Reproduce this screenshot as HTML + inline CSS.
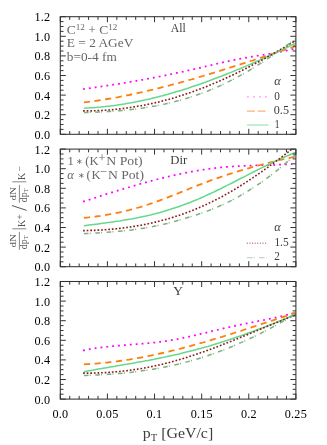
<!DOCTYPE html>
<html><head><meta charset="utf-8"><title>chart</title>
<style>
html,body{margin:0;padding:0;background:#fff;}
body{width:327px;height:445px;position:relative;overflow:hidden;font-family:"Liberation Serif",serif;}
svg text{font-family:"Liberation Serif",serif;}
svg{will-change:transform;}
.t{font-size:12.2px;fill:#000;letter-spacing:0.2px}
.a{font-size:12.6px;}
.x{font-size:15px;}
</style></head><body>
<svg width="327" height="445" viewBox="0 0 327 445" style="position:absolute;left:0;top:0">
<rect width="327" height="445" fill="#fff"/>
<defs><clipPath id="c0"><rect x="60.3" y="16.7" width="235.59999999999997" height="117.6"/></clipPath></defs>
<g clip-path="url(#c0)" fill="none">
<path d="M83.9,89.0 L86.3,88.6 L88.7,88.3 L91.0,88.0 L93.4,87.6 L95.8,87.3 L98.2,87.0 L100.6,86.6 L103.0,86.3 L105.3,85.9 L107.7,85.5 L110.1,85.2 L112.5,84.8 L114.9,84.4 L117.2,84.1 L119.6,83.7 L122.0,83.3 L124.4,82.9 L126.8,82.5 L129.2,82.1 L131.5,81.7 L133.9,81.3 L136.3,80.9 L138.7,80.4 L141.1,80.0 L143.5,79.6 L145.8,79.1 L148.2,78.7 L150.6,78.3 L153.0,77.8 L155.4,77.4 L157.7,76.9 L160.1,76.4 L162.5,76.0 L164.9,75.5 L167.3,75.0 L169.7,74.5 L172.0,74.0 L174.4,73.5 L176.8,73.0 L179.2,72.5 L181.6,72.0 L183.9,71.5 L186.3,70.9 L188.7,70.4 L191.1,69.9 L193.5,69.3 L195.9,68.8 L198.2,68.2 L200.6,67.7 L203.0,67.1 L205.4,66.5 L207.8,66.0 L210.1,65.4 L212.5,64.8 L214.9,64.3 L217.3,63.7 L219.7,63.1 L222.1,62.6 L224.4,62.1 L226.8,61.5 L229.2,61.0 L231.6,60.5 L234.0,60.0 L236.3,59.5 L238.7,59.0 L241.1,58.6 L243.5,58.1 L245.9,57.7 L248.3,57.3 L250.6,56.9 L253.0,56.5 L255.4,56.1 L257.8,55.7 L260.2,55.3 L262.6,55.0 L264.9,54.6 L267.3,54.2 L269.7,53.8 L272.1,53.4 L274.5,53.0 L276.8,52.5 L279.2,52.1 L281.6,51.6 L284.0,51.1 L286.4,50.6 L288.8,50.1 L291.1,49.5 L293.5,49.0 L295.9,48.3" stroke="#ff00ff" stroke-width="1.75" stroke-linecap="square" stroke-dasharray="0.1 5.8"/>
<path d="M83.9,102.4 L86.3,102.1 L88.7,101.8 L91.0,101.5 L93.4,101.2 L95.8,100.8 L98.2,100.5 L100.6,100.1 L103.0,99.7 L105.3,99.4 L107.7,99.0 L110.1,98.6 L112.5,98.2 L114.9,97.7 L117.2,97.3 L119.6,96.8 L122.0,96.4 L124.4,95.9 L126.8,95.4 L129.2,95.0 L131.5,94.5 L133.9,94.0 L136.3,93.4 L138.7,92.9 L141.1,92.4 L143.5,91.8 L145.8,91.3 L148.2,90.7 L150.6,90.2 L153.0,89.6 L155.4,89.0 L157.7,88.4 L160.1,87.8 L162.5,87.2 L164.9,86.6 L167.3,86.0 L169.7,85.4 L172.0,84.7 L174.4,84.1 L176.8,83.5 L179.2,82.8 L181.6,82.1 L183.9,81.5 L186.3,80.8 L188.7,80.1 L191.1,79.5 L193.5,78.8 L195.9,78.1 L198.2,77.4 L200.6,76.7 L203.0,76.0 L205.4,75.2 L207.8,74.5 L210.1,73.8 L212.5,73.1 L214.9,72.4 L217.3,71.6 L219.7,70.9 L222.1,70.1 L224.4,69.4 L226.8,68.7 L229.2,67.9 L231.6,67.2 L234.0,66.4 L236.3,65.6 L238.7,64.9 L241.1,64.1 L243.5,63.3 L245.9,62.6 L248.3,61.8 L250.6,61.0 L253.0,60.3 L255.4,59.5 L257.8,58.7 L260.2,57.9 L262.6,57.2 L264.9,56.4 L267.3,55.6 L269.7,54.8 L272.1,54.0 L274.5,53.2 L276.8,52.5 L279.2,51.7 L281.6,50.9 L284.0,50.1 L286.4,49.3 L288.8,48.6 L291.1,47.8 L293.5,47.0 L295.9,46.2" stroke="#ff7f0e" stroke-width="1.8" stroke-linecap="butt" stroke-dasharray="6.2 4.5"/>
<path d="M83.9,108.2 L86.3,108.1 L88.7,108.0 L91.0,107.8 L93.4,107.7 L95.8,107.5 L98.2,107.3 L100.6,107.1 L103.0,106.8 L105.3,106.6 L107.7,106.3 L110.1,106.0 L112.5,105.7 L114.9,105.4 L117.2,105.1 L119.6,104.7 L122.0,104.3 L124.4,104.0 L126.8,103.5 L129.2,103.1 L131.5,102.7 L133.9,102.2 L136.3,101.8 L138.7,101.3 L141.1,100.8 L143.5,100.3 L145.8,99.8 L148.2,99.2 L150.6,98.7 L153.0,98.1 L155.4,97.5 L157.7,96.9 L160.1,96.3 L162.5,95.7 L164.9,95.0 L167.3,94.4 L169.7,93.7 L172.0,93.0 L174.4,92.3 L176.8,91.6 L179.2,90.9 L181.6,90.2 L183.9,89.4 L186.3,88.7 L188.7,87.9 L191.1,87.1 L193.5,86.3 L195.9,85.5 L198.2,84.7 L200.6,83.9 L203.0,83.0 L205.4,82.2 L207.8,81.3 L210.1,80.4 L212.5,79.5 L214.9,78.6 L217.3,77.7 L219.7,76.8 L222.1,75.9 L224.4,75.0 L226.8,74.0 L229.2,73.1 L231.6,72.1 L234.0,71.1 L236.3,70.1 L238.7,69.2 L241.1,68.2 L243.5,67.1 L245.9,66.1 L248.3,65.1 L250.6,64.1 L253.0,63.0 L255.4,62.0 L257.8,60.9 L260.2,59.9 L262.6,58.8 L264.9,57.7 L267.3,56.6 L269.7,55.5 L272.1,54.4 L274.5,53.3 L276.8,52.2 L279.2,51.1 L281.6,50.0 L284.0,48.8 L286.4,47.7 L288.8,46.5 L291.1,45.4 L293.5,44.2 L295.9,43.1" stroke="#66d98f" stroke-width="1.55" stroke-linecap="butt"/>
<path d="M83.9,110.9 L86.3,110.9 L88.7,110.9 L91.0,110.9 L93.4,110.8 L95.8,110.7 L98.2,110.6 L100.6,110.5 L103.0,110.4 L105.3,110.2 L107.7,110.1 L110.1,109.9 L112.5,109.7 L114.9,109.4 L117.2,109.2 L119.6,108.9 L122.0,108.6 L124.4,108.3 L126.8,108.0 L129.2,107.7 L131.5,107.3 L133.9,106.9 L136.3,106.5 L138.7,106.1 L141.1,105.7 L143.5,105.3 L145.8,104.8 L148.2,104.3 L150.6,103.8 L153.0,103.3 L155.4,102.7 L157.7,102.2 L160.1,101.6 L162.5,101.0 L164.9,100.3 L167.3,99.7 L169.7,99.1 L172.0,98.4 L174.4,97.7 L176.8,97.0 L179.2,96.2 L181.6,95.5 L183.9,94.7 L186.3,93.9 L188.7,93.1 L191.1,92.3 L193.5,91.5 L195.9,90.6 L198.2,89.7 L200.6,88.8 L203.0,87.9 L205.4,86.9 L207.8,86.0 L210.1,85.0 L212.5,84.0 L214.9,83.0 L217.3,82.0 L219.7,81.0 L222.1,79.9 L224.4,78.8 L226.8,77.7 L229.2,76.6 L231.6,75.5 L234.0,74.4 L236.3,73.2 L238.7,72.1 L241.1,70.9 L243.5,69.7 L245.9,68.5 L248.3,67.3 L250.6,66.0 L253.0,64.8 L255.4,63.5 L257.8,62.3 L260.2,61.0 L262.6,59.7 L264.9,58.4 L267.3,57.0 L269.7,55.7 L272.1,54.4 L274.5,53.0 L276.8,51.6 L279.2,50.3 L281.6,48.9 L284.0,47.5 L286.4,46.1 L288.8,44.7 L291.1,43.2 L293.5,41.8 L295.9,40.4" stroke="#8b1a1a" stroke-width="1.6" stroke-linecap="square" stroke-dasharray="0.1 3.5"/>
<path d="M83.9,112.5 L86.3,112.5 L88.7,112.4 L91.0,112.3 L93.4,112.2 L95.8,112.2 L98.2,112.1 L100.6,112.0 L103.0,111.8 L105.3,111.7 L107.7,111.6 L110.1,111.4 L112.5,111.2 L114.9,111.1 L117.2,110.9 L119.6,110.7 L122.0,110.5 L124.4,110.2 L126.8,110.0 L129.2,109.7 L131.5,109.5 L133.9,109.2 L136.3,108.9 L138.7,108.6 L141.1,108.2 L143.5,107.9 L145.8,107.5 L148.2,107.1 L150.6,106.7 L153.0,106.3 L155.4,105.9 L157.7,105.4 L160.1,105.0 L162.5,104.5 L164.9,104.0 L167.3,103.4 L169.7,102.9 L172.0,102.3 L174.4,101.7 L176.8,101.1 L179.2,100.5 L181.6,99.8 L183.9,99.1 L186.3,98.4 L188.7,97.7 L191.1,96.9 L193.5,96.2 L195.9,95.4 L198.2,94.5 L200.6,93.7 L203.0,92.8 L205.4,91.9 L207.8,91.0 L210.1,90.0 L212.5,89.1 L214.9,88.1 L217.3,87.0 L219.7,86.0 L222.1,84.9 L224.4,83.8 L226.8,82.6 L229.2,81.4 L231.6,80.2 L234.0,79.0 L236.3,77.7 L238.7,76.4 L241.1,75.1 L243.5,73.8 L245.9,72.4 L248.3,71.0 L250.6,69.6 L253.0,68.2 L255.4,66.7 L257.8,65.2 L260.2,63.7 L262.6,62.2 L264.9,60.6 L267.3,59.0 L269.7,57.4 L272.1,55.8 L274.5,54.1 L276.8,52.5 L279.2,50.8 L281.6,49.1 L284.0,47.4 L286.4,45.6 L288.8,43.9 L291.1,42.1 L293.5,40.3 L295.9,38.5" stroke="#7cb07d" stroke-width="1.5" stroke-linecap="butt" stroke-dasharray="4.6 1.2 1 4.6"/>
</g>
<rect x="60.3" y="16.7" width="235.59999999999997" height="117.6" fill="none" stroke="#333" stroke-width="1.05"/>
<path d="M60.30,134.29999999999998v-5.5M60.30,16.7v5.5M69.72,134.29999999999998v-3.2M69.72,16.7v3.2M79.15,134.29999999999998v-3.2M79.15,16.7v3.2M88.57,134.29999999999998v-3.2M88.57,16.7v3.2M98.00,134.29999999999998v-3.2M98.00,16.7v3.2M107.42,134.29999999999998v-5.5M107.42,16.7v5.5M116.84,134.29999999999998v-3.2M116.84,16.7v3.2M126.27,134.29999999999998v-3.2M126.27,16.7v3.2M135.69,134.29999999999998v-3.2M135.69,16.7v3.2M145.12,134.29999999999998v-3.2M145.12,16.7v3.2M154.54,134.29999999999998v-5.5M154.54,16.7v5.5M163.96,134.29999999999998v-3.2M163.96,16.7v3.2M173.39,134.29999999999998v-3.2M173.39,16.7v3.2M182.81,134.29999999999998v-3.2M182.81,16.7v3.2M192.24,134.29999999999998v-3.2M192.24,16.7v3.2M201.66,134.29999999999998v-5.5M201.66,16.7v5.5M211.08,134.29999999999998v-3.2M211.08,16.7v3.2M220.51,134.29999999999998v-3.2M220.51,16.7v3.2M229.93,134.29999999999998v-3.2M229.93,16.7v3.2M239.36,134.29999999999998v-3.2M239.36,16.7v3.2M248.78,134.29999999999998v-5.5M248.78,16.7v5.5M258.20,134.29999999999998v-3.2M258.20,16.7v3.2M267.63,134.29999999999998v-3.2M267.63,16.7v3.2M277.05,134.29999999999998v-3.2M277.05,16.7v3.2M286.48,134.29999999999998v-3.2M286.48,16.7v3.2M295.90,134.29999999999998v-5.5M295.90,16.7v5.5M60.3,134.30h5.5M295.9,134.30h-5.5M60.3,129.40h3.2M295.9,129.40h-3.2M60.3,124.50h3.2M295.9,124.50h-3.2M60.3,119.60h3.2M295.9,119.60h-3.2M60.3,114.70h5.5M295.9,114.70h-5.5M60.3,109.80h3.2M295.9,109.80h-3.2M60.3,104.90h3.2M295.9,104.90h-3.2M60.3,100.00h3.2M295.9,100.00h-3.2M60.3,95.10h5.5M295.9,95.10h-5.5M60.3,90.20h3.2M295.9,90.20h-3.2M60.3,85.30h3.2M295.9,85.30h-3.2M60.3,80.40h3.2M295.9,80.40h-3.2M60.3,75.50h5.5M295.9,75.50h-5.5M60.3,70.60h3.2M295.9,70.60h-3.2M60.3,65.70h3.2M295.9,65.70h-3.2M60.3,60.80h3.2M295.9,60.80h-3.2M60.3,55.90h5.5M295.9,55.90h-5.5M60.3,51.00h3.2M295.9,51.00h-3.2M60.3,46.10h3.2M295.9,46.10h-3.2M60.3,41.20h3.2M295.9,41.20h-3.2M60.3,36.30h5.5M295.9,36.30h-5.5M60.3,31.40h3.2M295.9,31.40h-3.2M60.3,26.50h3.2M295.9,26.50h-3.2M60.3,21.60h3.2M295.9,21.60h-3.2M60.3,16.70h5.5M295.9,16.70h-5.5" stroke="#333" stroke-width="1" fill="none"/>
<text x="50.3" y="138.7" text-anchor="end" class="t">0.0</text>
<text x="50.3" y="119.1" text-anchor="end" class="t">0.2</text>
<text x="50.3" y="99.5" text-anchor="end" class="t">0.4</text>
<text x="50.3" y="79.9" text-anchor="end" class="t">0.6</text>
<text x="50.3" y="60.3" text-anchor="end" class="t">0.8</text>
<text x="50.3" y="40.7" text-anchor="end" class="t">1.0</text>
<text x="50.3" y="21.1" text-anchor="end" class="t">1.2</text>
<defs><clipPath id="c1"><rect x="60.3" y="149.1" width="235.59999999999997" height="117.6"/></clipPath></defs>
<g clip-path="url(#c1)" fill="none">
<path d="M83.9,201.4 L86.3,200.6 L88.7,199.9 L91.0,199.1 L93.4,198.3 L95.8,197.6 L98.2,196.8 L100.6,196.0 L103.0,195.3 L105.3,194.5 L107.7,193.8 L110.1,193.0 L112.5,192.3 L114.9,191.5 L117.2,190.8 L119.6,190.1 L122.0,189.3 L124.4,188.6 L126.8,187.9 L129.2,187.2 L131.5,186.5 L133.9,185.8 L136.3,185.1 L138.7,184.4 L141.1,183.7 L143.5,183.0 L145.8,182.4 L148.2,181.7 L150.6,181.1 L153.0,180.4 L155.4,179.8 L157.7,179.2 L160.1,178.6 L162.5,178.0 L164.9,177.4 L167.3,176.8 L169.7,176.3 L172.0,175.7 L174.4,175.2 L176.8,174.7 L179.2,174.1 L181.6,173.6 L183.9,173.1 L186.3,172.7 L188.7,172.2 L191.1,171.8 L193.5,171.3 L195.9,170.9 L198.2,170.5 L200.6,170.1 L203.0,169.7 L205.4,169.4 L207.8,169.0 L210.1,168.7 L212.5,168.4 L214.9,168.1 L217.3,167.8 L219.7,167.6 L222.1,167.4 L224.4,167.1 L226.8,166.9 L229.2,166.7 L231.6,166.6 L234.0,166.4 L236.3,166.3 L238.7,166.1 L241.1,166.0 L243.5,165.9 L245.9,165.8 L248.3,165.7 L250.6,165.6 L253.0,165.5 L255.4,165.4 L257.8,165.3 L260.2,165.3 L262.6,165.2 L264.9,165.1 L267.3,165.0 L269.7,165.0 L272.1,164.9 L274.5,164.8 L276.8,164.7 L279.2,164.6 L281.6,164.5 L284.0,164.4 L286.4,164.3 L288.8,164.2 L291.1,164.0 L293.5,163.9 L295.9,163.7" stroke="#ff00ff" stroke-width="1.75" stroke-linecap="square" stroke-dasharray="0.1 5.8"/>
<path d="M83.9,217.9 L86.3,217.6 L88.7,217.4 L91.0,217.1 L93.4,216.8 L95.8,216.5 L98.2,216.1 L100.6,215.8 L103.0,215.4 L105.3,215.0 L107.7,214.6 L110.1,214.2 L112.5,213.7 L114.9,213.3 L117.2,212.8 L119.6,212.3 L122.0,211.8 L124.4,211.2 L126.8,210.6 L129.2,210.1 L131.5,209.4 L133.9,208.8 L136.3,208.2 L138.7,207.5 L141.1,206.8 L143.5,206.1 L145.8,205.3 L148.2,204.5 L150.6,203.7 L153.0,202.9 L155.4,202.1 L157.7,201.2 L160.1,200.3 L162.5,199.4 L164.9,198.5 L167.3,197.6 L169.7,196.7 L172.0,195.7 L174.4,194.8 L176.8,193.8 L179.2,192.9 L181.6,191.9 L183.9,190.9 L186.3,190.0 L188.7,189.0 L191.1,188.0 L193.5,187.1 L195.9,186.1 L198.2,185.2 L200.6,184.3 L203.0,183.4 L205.4,182.5 L207.8,181.6 L210.1,180.7 L212.5,179.9 L214.9,179.0 L217.3,178.2 L219.7,177.3 L222.1,176.5 L224.4,175.7 L226.8,174.9 L229.2,174.1 L231.6,173.4 L234.0,172.6 L236.3,171.9 L238.7,171.1 L241.1,170.4 L243.5,169.7 L245.9,169.0 L248.3,168.3 L250.6,167.6 L253.0,166.9 L255.4,166.3 L257.8,165.6 L260.2,165.0 L262.6,164.4 L264.9,163.7 L267.3,163.1 L269.7,162.5 L272.1,161.9 L274.5,161.4 L276.8,160.8 L279.2,160.2 L281.6,159.7 L284.0,159.2 L286.4,158.6 L288.8,158.1 L291.1,157.6 L293.5,157.1 L295.9,156.6" stroke="#ff7f0e" stroke-width="1.8" stroke-linecap="butt" stroke-dasharray="6.2 4.5"/>
<path d="M83.9,225.8 L86.3,225.4 L88.7,225.1 L91.0,224.8 L93.4,224.5 L95.8,224.2 L98.2,223.9 L100.6,223.6 L103.0,223.2 L105.3,222.9 L107.7,222.6 L110.1,222.3 L112.5,221.9 L114.9,221.6 L117.2,221.2 L119.6,220.9 L122.0,220.5 L124.4,220.1 L126.8,219.7 L129.2,219.3 L131.5,218.9 L133.9,218.4 L136.3,218.0 L138.7,217.5 L141.1,217.0 L143.5,216.5 L145.8,216.0 L148.2,215.4 L150.6,214.9 L153.0,214.3 L155.4,213.7 L157.7,213.0 L160.1,212.4 L162.5,211.7 L164.9,211.0 L167.3,210.3 L169.7,209.6 L172.0,208.8 L174.4,208.0 L176.8,207.2 L179.2,206.4 L181.6,205.6 L183.9,204.7 L186.3,203.8 L188.7,202.9 L191.1,202.0 L193.5,201.0 L195.9,200.1 L198.2,199.1 L200.6,198.0 L203.0,197.0 L205.4,195.9 L207.8,194.8 L210.1,193.7 L212.5,192.6 L214.9,191.5 L217.3,190.3 L219.7,189.2 L222.1,188.0 L224.4,186.8 L226.8,185.6 L229.2,184.4 L231.6,183.2 L234.0,182.0 L236.3,180.8 L238.7,179.5 L241.1,178.3 L243.5,177.1 L245.9,175.9 L248.3,174.6 L250.6,173.4 L253.0,172.2 L255.4,171.0 L257.8,169.8 L260.2,168.6 L262.6,167.4 L264.9,166.2 L267.3,165.0 L269.7,163.9 L272.1,162.7 L274.5,161.6 L276.8,160.5 L279.2,159.4 L281.6,158.3 L284.0,157.2 L286.4,156.2 L288.8,155.2 L291.1,154.2 L293.5,153.2 L295.9,152.2" stroke="#66d98f" stroke-width="1.55" stroke-linecap="butt"/>
<path d="M83.9,230.6 L86.3,230.6 L88.7,230.5 L91.0,230.4 L93.4,230.4 L95.8,230.3 L98.2,230.1 L100.6,230.0 L103.0,229.9 L105.3,229.7 L107.7,229.5 L110.1,229.3 L112.5,229.1 L114.9,228.9 L117.2,228.7 L119.6,228.4 L122.0,228.1 L124.4,227.8 L126.8,227.5 L129.2,227.2 L131.5,226.8 L133.9,226.4 L136.3,226.0 L138.7,225.6 L141.1,225.2 L143.5,224.7 L145.8,224.2 L148.2,223.7 L150.6,223.2 L153.0,222.7 L155.4,222.1 L157.7,221.5 L160.1,220.9 L162.5,220.3 L164.9,219.7 L167.3,219.0 L169.7,218.3 L172.0,217.6 L174.4,216.8 L176.8,216.0 L179.2,215.3 L181.6,214.4 L183.9,213.6 L186.3,212.7 L188.7,211.8 L191.1,210.9 L193.5,210.0 L195.9,209.0 L198.2,208.0 L200.6,207.0 L203.0,205.9 L205.4,204.9 L207.8,203.8 L210.1,202.6 L212.5,201.5 L214.9,200.3 L217.3,199.1 L219.7,197.8 L222.1,196.6 L224.4,195.3 L226.8,193.9 L229.2,192.6 L231.6,191.2 L234.0,189.8 L236.3,188.4 L238.7,186.9 L241.1,185.4 L243.5,183.9 L245.9,182.4 L248.3,180.8 L250.6,179.2 L253.0,177.7 L255.4,176.0 L257.8,174.4 L260.2,172.7 L262.6,171.1 L264.9,169.4 L267.3,167.7 L269.7,165.9 L272.1,164.2 L274.5,162.4 L276.8,160.7 L279.2,158.9 L281.6,157.1 L284.0,155.2 L286.4,153.4 L288.8,151.6 L291.1,149.7 L293.5,147.8 L295.9,145.9" stroke="#8b1a1a" stroke-width="1.6" stroke-linecap="square" stroke-dasharray="0.1 3.5"/>
<path d="M83.9,233.8 L86.3,233.6 L88.7,233.5 L91.0,233.3 L93.4,233.2 L95.8,233.0 L98.2,232.9 L100.6,232.7 L103.0,232.5 L105.3,232.4 L107.7,232.2 L110.1,232.0 L112.5,231.8 L114.9,231.6 L117.2,231.4 L119.6,231.2 L122.0,230.9 L124.4,230.7 L126.8,230.4 L129.2,230.2 L131.5,229.9 L133.9,229.6 L136.3,229.3 L138.7,229.0 L141.1,228.6 L143.5,228.2 L145.8,227.9 L148.2,227.4 L150.6,227.0 L153.0,226.6 L155.4,226.1 L157.7,225.6 L160.1,225.1 L162.5,224.5 L164.9,223.9 L167.3,223.4 L169.7,222.7 L172.0,222.1 L174.4,221.5 L176.8,220.8 L179.2,220.1 L181.6,219.4 L183.9,218.7 L186.3,218.0 L188.7,217.3 L191.1,216.6 L193.5,215.8 L195.9,215.0 L198.2,214.3 L200.6,213.4 L203.0,212.6 L205.4,211.8 L207.8,210.9 L210.1,210.0 L212.5,209.0 L214.9,208.1 L217.3,207.1 L219.7,206.0 L222.1,205.0 L224.4,203.9 L226.8,202.8 L229.2,201.6 L231.6,200.4 L234.0,199.1 L236.3,197.9 L238.7,196.6 L241.1,195.2 L243.5,193.8 L245.9,192.4 L248.3,190.9 L250.6,189.4 L253.0,187.9 L255.4,186.3 L257.8,184.7 L260.2,183.1 L262.6,181.4 L264.9,179.7 L267.3,177.9 L269.7,176.2 L272.1,174.3 L274.5,172.5 L276.8,170.6 L279.2,168.6 L281.6,166.7 L284.0,164.6 L286.4,162.6 L288.8,160.5 L291.1,158.4 L293.5,156.2 L295.9,154.1" stroke="#7cb07d" stroke-width="1.5" stroke-linecap="butt" stroke-dasharray="4.6 1.2 1 4.6"/>
</g>
<rect x="60.3" y="149.1" width="235.59999999999997" height="117.6" fill="none" stroke="#333" stroke-width="1.05"/>
<path d="M60.30,266.7v-5.5M60.30,149.1v5.5M69.72,266.7v-3.2M69.72,149.1v3.2M79.15,266.7v-3.2M79.15,149.1v3.2M88.57,266.7v-3.2M88.57,149.1v3.2M98.00,266.7v-3.2M98.00,149.1v3.2M107.42,266.7v-5.5M107.42,149.1v5.5M116.84,266.7v-3.2M116.84,149.1v3.2M126.27,266.7v-3.2M126.27,149.1v3.2M135.69,266.7v-3.2M135.69,149.1v3.2M145.12,266.7v-3.2M145.12,149.1v3.2M154.54,266.7v-5.5M154.54,149.1v5.5M163.96,266.7v-3.2M163.96,149.1v3.2M173.39,266.7v-3.2M173.39,149.1v3.2M182.81,266.7v-3.2M182.81,149.1v3.2M192.24,266.7v-3.2M192.24,149.1v3.2M201.66,266.7v-5.5M201.66,149.1v5.5M211.08,266.7v-3.2M211.08,149.1v3.2M220.51,266.7v-3.2M220.51,149.1v3.2M229.93,266.7v-3.2M229.93,149.1v3.2M239.36,266.7v-3.2M239.36,149.1v3.2M248.78,266.7v-5.5M248.78,149.1v5.5M258.20,266.7v-3.2M258.20,149.1v3.2M267.63,266.7v-3.2M267.63,149.1v3.2M277.05,266.7v-3.2M277.05,149.1v3.2M286.48,266.7v-3.2M286.48,149.1v3.2M295.90,266.7v-5.5M295.90,149.1v5.5M60.3,266.70h5.5M295.9,266.70h-5.5M60.3,261.80h3.2M295.9,261.80h-3.2M60.3,256.90h3.2M295.9,256.90h-3.2M60.3,252.00h3.2M295.9,252.00h-3.2M60.3,247.10h5.5M295.9,247.10h-5.5M60.3,242.20h3.2M295.9,242.20h-3.2M60.3,237.30h3.2M295.9,237.30h-3.2M60.3,232.40h3.2M295.9,232.40h-3.2M60.3,227.50h5.5M295.9,227.50h-5.5M60.3,222.60h3.2M295.9,222.60h-3.2M60.3,217.70h3.2M295.9,217.70h-3.2M60.3,212.80h3.2M295.9,212.80h-3.2M60.3,207.90h5.5M295.9,207.90h-5.5M60.3,203.00h3.2M295.9,203.00h-3.2M60.3,198.10h3.2M295.9,198.10h-3.2M60.3,193.20h3.2M295.9,193.20h-3.2M60.3,188.30h5.5M295.9,188.30h-5.5M60.3,183.40h3.2M295.9,183.40h-3.2M60.3,178.50h3.2M295.9,178.50h-3.2M60.3,173.60h3.2M295.9,173.60h-3.2M60.3,168.70h5.5M295.9,168.70h-5.5M60.3,163.80h3.2M295.9,163.80h-3.2M60.3,158.90h3.2M295.9,158.90h-3.2M60.3,154.00h3.2M295.9,154.00h-3.2M60.3,149.10h5.5M295.9,149.10h-5.5" stroke="#333" stroke-width="1" fill="none"/>
<text x="50.3" y="271.1" text-anchor="end" class="t">0.0</text>
<text x="50.3" y="251.5" text-anchor="end" class="t">0.2</text>
<text x="50.3" y="231.9" text-anchor="end" class="t">0.4</text>
<text x="50.3" y="212.3" text-anchor="end" class="t">0.6</text>
<text x="50.3" y="192.7" text-anchor="end" class="t">0.8</text>
<text x="50.3" y="173.1" text-anchor="end" class="t">1.0</text>
<text x="50.3" y="153.5" text-anchor="end" class="t">1.2</text>
<defs><clipPath id="c2"><rect x="60.3" y="281.5" width="235.59999999999997" height="117.6"/></clipPath></defs>
<g clip-path="url(#c2)" fill="none">
<path d="M83.9,350.4 L86.3,349.9 L88.7,349.4 L91.0,349.0 L93.4,348.6 L95.8,348.2 L98.2,347.9 L100.6,347.6 L103.0,347.2 L105.3,347.0 L107.7,346.7 L110.1,346.4 L112.5,346.2 L114.9,346.0 L117.2,345.8 L119.6,345.6 L122.0,345.4 L124.4,345.2 L126.8,345.0 L129.2,344.8 L131.5,344.6 L133.9,344.4 L136.3,344.2 L138.7,344.0 L141.1,343.8 L143.5,343.6 L145.8,343.4 L148.2,343.2 L150.6,342.9 L153.0,342.7 L155.4,342.4 L157.7,342.1 L160.1,341.8 L162.5,341.5 L164.9,341.2 L167.3,340.8 L169.7,340.4 L172.0,340.0 L174.4,339.6 L176.8,339.2 L179.2,338.7 L181.6,338.2 L183.9,337.7 L186.3,337.2 L188.7,336.7 L191.1,336.2 L193.5,335.6 L195.9,335.1 L198.2,334.5 L200.6,333.9 L203.0,333.3 L205.4,332.8 L207.8,332.2 L210.1,331.6 L212.5,331.0 L214.9,330.5 L217.3,329.9 L219.7,329.3 L222.1,328.7 L224.4,328.2 L226.8,327.6 L229.2,327.1 L231.6,326.6 L234.0,326.1 L236.3,325.6 L238.7,325.1 L241.1,324.6 L243.5,324.1 L245.9,323.6 L248.3,323.1 L250.6,322.7 L253.0,322.2 L255.4,321.7 L257.8,321.2 L260.2,320.8 L262.6,320.3 L264.9,319.8 L267.3,319.3 L269.7,318.8 L272.1,318.3 L274.5,317.8 L276.8,317.3 L279.2,316.7 L281.6,316.2 L284.0,315.6 L286.4,315.0 L288.8,314.5 L291.1,313.8 L293.5,313.2 L295.9,312.6" stroke="#ff00ff" stroke-width="1.75" stroke-linecap="square" stroke-dasharray="0.1 5.8"/>
<path d="M83.9,364.3 L86.3,364.2 L88.7,364.1 L91.0,363.9 L93.4,363.8 L95.8,363.6 L98.2,363.4 L100.6,363.2 L103.0,363.0 L105.3,362.7 L107.7,362.5 L110.1,362.2 L112.5,361.9 L114.9,361.6 L117.2,361.3 L119.6,361.0 L122.0,360.7 L124.4,360.3 L126.8,359.9 L129.2,359.6 L131.5,359.2 L133.9,358.8 L136.3,358.3 L138.7,357.9 L141.1,357.5 L143.5,357.0 L145.8,356.6 L148.2,356.1 L150.6,355.6 L153.0,355.1 L155.4,354.6 L157.7,354.1 L160.1,353.5 L162.5,353.0 L164.9,352.5 L167.3,351.9 L169.7,351.3 L172.0,350.7 L174.4,350.2 L176.8,349.6 L179.2,349.0 L181.6,348.3 L183.9,347.7 L186.3,347.1 L188.7,346.4 L191.1,345.8 L193.5,345.1 L195.9,344.5 L198.2,343.8 L200.6,343.1 L203.0,342.5 L205.4,341.8 L207.8,341.1 L210.1,340.4 L212.5,339.7 L214.9,338.9 L217.3,338.2 L219.7,337.5 L222.1,336.8 L224.4,336.0 L226.8,335.3 L229.2,334.5 L231.6,333.8 L234.0,333.0 L236.3,332.3 L238.7,331.5 L241.1,330.8 L243.5,330.0 L245.9,329.2 L248.3,328.4 L250.6,327.7 L253.0,326.9 L255.4,326.1 L257.8,325.3 L260.2,324.5 L262.6,323.7 L264.9,322.9 L267.3,322.1 L269.7,321.3 L272.1,320.6 L274.5,319.8 L276.8,319.0 L279.2,318.2 L281.6,317.4 L284.0,316.6 L286.4,315.8 L288.8,315.0 L291.1,314.2 L293.5,313.4 L295.9,312.6" stroke="#ff7f0e" stroke-width="1.8" stroke-linecap="butt" stroke-dasharray="6.2 4.5"/>
<path d="M83.9,371.7 L86.3,371.2 L88.7,370.8 L91.0,370.4 L93.4,370.0 L95.8,369.5 L98.2,369.1 L100.6,368.7 L103.0,368.3 L105.3,367.9 L107.7,367.5 L110.1,367.1 L112.5,366.7 L114.9,366.3 L117.2,365.8 L119.6,365.4 L122.0,365.0 L124.4,364.6 L126.8,364.2 L129.2,363.8 L131.5,363.4 L133.9,363.0 L136.3,362.6 L138.7,362.1 L141.1,361.7 L143.5,361.3 L145.8,360.8 L148.2,360.4 L150.6,359.9 L153.0,359.5 L155.4,359.0 L157.7,358.5 L160.1,358.0 L162.5,357.6 L164.9,357.1 L167.3,356.5 L169.7,356.0 L172.0,355.5 L174.4,355.0 L176.8,354.4 L179.2,353.9 L181.6,353.3 L183.9,352.7 L186.3,352.1 L188.7,351.5 L191.1,350.9 L193.5,350.3 L195.9,349.7 L198.2,349.0 L200.6,348.4 L203.0,347.7 L205.4,347.0 L207.8,346.4 L210.1,345.7 L212.5,344.9 L214.9,344.2 L217.3,343.5 L219.7,342.8 L222.1,342.0 L224.4,341.3 L226.8,340.5 L229.2,339.7 L231.6,338.9 L234.0,338.1 L236.3,337.3 L238.7,336.5 L241.1,335.7 L243.5,334.8 L245.9,334.0 L248.3,333.1 L250.6,332.3 L253.0,331.4 L255.4,330.5 L257.8,329.6 L260.2,328.7 L262.6,327.8 L264.9,326.9 L267.3,326.0 L269.7,325.0 L272.1,324.1 L274.5,323.1 L276.8,322.2 L279.2,321.2 L281.6,320.2 L284.0,319.2 L286.4,318.2 L288.8,317.2 L291.1,316.2 L293.5,315.2 L295.9,314.1" stroke="#66d98f" stroke-width="1.55" stroke-linecap="butt"/>
<path d="M83.9,373.1 L86.3,373.1 L88.7,373.1 L91.0,373.1 L93.4,373.1 L95.8,373.0 L98.2,372.9 L100.6,372.8 L103.0,372.7 L105.3,372.6 L107.7,372.5 L110.1,372.3 L112.5,372.1 L114.9,371.9 L117.2,371.7 L119.6,371.5 L122.0,371.2 L124.4,371.0 L126.8,370.7 L129.2,370.4 L131.5,370.0 L133.9,369.7 L136.3,369.3 L138.7,369.0 L141.1,368.6 L143.5,368.2 L145.8,367.7 L148.2,367.3 L150.6,366.8 L153.0,366.3 L155.4,365.8 L157.7,365.3 L160.1,364.7 L162.5,364.2 L164.9,363.6 L167.3,363.0 L169.7,362.4 L172.0,361.7 L174.4,361.1 L176.8,360.4 L179.2,359.7 L181.6,359.0 L183.9,358.3 L186.3,357.5 L188.7,356.8 L191.1,356.0 L193.5,355.2 L195.9,354.4 L198.2,353.6 L200.6,352.8 L203.0,352.0 L205.4,351.1 L207.8,350.2 L210.1,349.4 L212.5,348.5 L214.9,347.6 L217.3,346.7 L219.7,345.8 L222.1,344.8 L224.4,343.9 L226.8,343.0 L229.2,342.0 L231.6,341.1 L234.0,340.1 L236.3,339.1 L238.7,338.2 L241.1,337.2 L243.5,336.2 L245.9,335.2 L248.3,334.3 L250.6,333.3 L253.0,332.3 L255.4,331.3 L257.8,330.3 L260.2,329.3 L262.6,328.3 L264.9,327.3 L267.3,326.3 L269.7,325.4 L272.1,324.4 L274.5,323.4 L276.8,322.4 L279.2,321.5 L281.6,320.5 L284.0,319.5 L286.4,318.6 L288.8,317.6 L291.1,316.7 L293.5,315.8 L295.9,314.8" stroke="#8b1a1a" stroke-width="1.6" stroke-linecap="square" stroke-dasharray="0.1 3.5"/>
<path d="M83.9,375.5 L86.3,375.4 L88.7,375.3 L91.0,375.2 L93.4,375.1 L95.8,375.0 L98.2,374.9 L100.6,374.8 L103.0,374.6 L105.3,374.5 L107.7,374.3 L110.1,374.2 L112.5,374.0 L114.9,373.8 L117.2,373.6 L119.6,373.4 L122.0,373.2 L124.4,372.9 L126.8,372.7 L129.2,372.4 L131.5,372.2 L133.9,371.9 L136.3,371.6 L138.7,371.3 L141.1,371.0 L143.5,370.6 L145.8,370.3 L148.2,369.9 L150.6,369.6 L153.0,369.2 L155.4,368.8 L157.7,368.4 L160.1,367.9 L162.5,367.5 L164.9,367.0 L167.3,366.5 L169.7,366.0 L172.0,365.5 L174.4,365.0 L176.8,364.4 L179.2,363.9 L181.6,363.3 L183.9,362.7 L186.3,362.1 L188.7,361.4 L191.1,360.8 L193.5,360.1 L195.9,359.4 L198.2,358.7 L200.6,358.0 L203.0,357.2 L205.4,356.4 L207.8,355.7 L210.1,354.8 L212.5,354.0 L214.9,353.2 L217.3,352.3 L219.7,351.4 L222.1,350.5 L224.4,349.6 L226.8,348.6 L229.2,347.7 L231.6,346.7 L234.0,345.7 L236.3,344.7 L238.7,343.6 L241.1,342.6 L243.5,341.5 L245.9,340.4 L248.3,339.3 L250.6,338.2 L253.0,337.1 L255.4,335.9 L257.8,334.7 L260.2,333.6 L262.6,332.3 L264.9,331.1 L267.3,329.9 L269.7,328.6 L272.1,327.4 L274.5,326.1 L276.8,324.8 L279.2,323.5 L281.6,322.1 L284.0,320.8 L286.4,319.4 L288.8,318.0 L291.1,316.6 L293.5,315.2 L295.9,313.8" stroke="#7cb07d" stroke-width="1.5" stroke-linecap="butt" stroke-dasharray="4.6 1.2 1 4.6"/>
</g>
<rect x="60.3" y="281.5" width="235.59999999999997" height="117.6" fill="none" stroke="#333" stroke-width="1.05"/>
<path d="M60.30,399.1v-5.5M60.30,281.5v5.5M69.72,399.1v-3.2M69.72,281.5v3.2M79.15,399.1v-3.2M79.15,281.5v3.2M88.57,399.1v-3.2M88.57,281.5v3.2M98.00,399.1v-3.2M98.00,281.5v3.2M107.42,399.1v-5.5M107.42,281.5v5.5M116.84,399.1v-3.2M116.84,281.5v3.2M126.27,399.1v-3.2M126.27,281.5v3.2M135.69,399.1v-3.2M135.69,281.5v3.2M145.12,399.1v-3.2M145.12,281.5v3.2M154.54,399.1v-5.5M154.54,281.5v5.5M163.96,399.1v-3.2M163.96,281.5v3.2M173.39,399.1v-3.2M173.39,281.5v3.2M182.81,399.1v-3.2M182.81,281.5v3.2M192.24,399.1v-3.2M192.24,281.5v3.2M201.66,399.1v-5.5M201.66,281.5v5.5M211.08,399.1v-3.2M211.08,281.5v3.2M220.51,399.1v-3.2M220.51,281.5v3.2M229.93,399.1v-3.2M229.93,281.5v3.2M239.36,399.1v-3.2M239.36,281.5v3.2M248.78,399.1v-5.5M248.78,281.5v5.5M258.20,399.1v-3.2M258.20,281.5v3.2M267.63,399.1v-3.2M267.63,281.5v3.2M277.05,399.1v-3.2M277.05,281.5v3.2M286.48,399.1v-3.2M286.48,281.5v3.2M295.90,399.1v-5.5M295.90,281.5v5.5M60.3,399.10h5.5M295.9,399.10h-5.5M60.3,394.20h3.2M295.9,394.20h-3.2M60.3,389.30h3.2M295.9,389.30h-3.2M60.3,384.40h3.2M295.9,384.40h-3.2M60.3,379.50h5.5M295.9,379.50h-5.5M60.3,374.60h3.2M295.9,374.60h-3.2M60.3,369.70h3.2M295.9,369.70h-3.2M60.3,364.80h3.2M295.9,364.80h-3.2M60.3,359.90h5.5M295.9,359.90h-5.5M60.3,355.00h3.2M295.9,355.00h-3.2M60.3,350.10h3.2M295.9,350.10h-3.2M60.3,345.20h3.2M295.9,345.20h-3.2M60.3,340.30h5.5M295.9,340.30h-5.5M60.3,335.40h3.2M295.9,335.40h-3.2M60.3,330.50h3.2M295.9,330.50h-3.2M60.3,325.60h3.2M295.9,325.60h-3.2M60.3,320.70h5.5M295.9,320.70h-5.5M60.3,315.80h3.2M295.9,315.80h-3.2M60.3,310.90h3.2M295.9,310.90h-3.2M60.3,306.00h3.2M295.9,306.00h-3.2M60.3,301.10h5.5M295.9,301.10h-5.5M60.3,296.20h3.2M295.9,296.20h-3.2M60.3,291.30h3.2M295.9,291.30h-3.2M60.3,286.40h3.2M295.9,286.40h-3.2M60.3,281.50h5.5M295.9,281.50h-5.5" stroke="#333" stroke-width="1" fill="none"/>
<text x="50.3" y="403.5" text-anchor="end" class="t">0.0</text>
<text x="50.3" y="383.9" text-anchor="end" class="t">0.2</text>
<text x="50.3" y="364.3" text-anchor="end" class="t">0.4</text>
<text x="50.3" y="344.7" text-anchor="end" class="t">0.6</text>
<text x="50.3" y="325.1" text-anchor="end" class="t">0.8</text>
<text x="50.3" y="305.5" text-anchor="end" class="t">1.0</text>
<text x="50.3" y="285.9" text-anchor="end" class="t">1.2</text>
<text x="60.3" y="417.5" text-anchor="middle" class="t">0.0</text>
<text x="107.4" y="417.5" text-anchor="middle" class="t">0.05</text>
<text x="154.5" y="417.5" text-anchor="middle" class="t">0.1</text>
<text x="201.7" y="417.5" text-anchor="middle" class="t">0.15</text>
<text x="248.8" y="417.5" text-anchor="middle" class="t">0.2</text>
<text x="295.9" y="417.5" text-anchor="middle" class="t">0.25</text>
<text x="66.8" y="33.8" class="a" fill="#676767" text-anchor="start" textLength="50.6" lengthAdjust="spacingAndGlyphs">C<tspan dy="-4.2" font-size="8.5">12</tspan><tspan dy="4.2"> + C</tspan><tspan dy="-4.2" font-size="8.5">12</tspan></text>
<text x="66.8" y="47.3" class="a" fill="#676767" text-anchor="start" textLength="66.5" lengthAdjust="spacingAndGlyphs">E = 2 AGeV</text>
<text x="66.8" y="60.7" class="a" fill="#676767" text-anchor="start" textLength="50" lengthAdjust="spacingAndGlyphs">b=0-4 fm</text>
<text x="170.7" y="31.7" class="a" fill="#3e3e3e" text-anchor="start" textLength="15" lengthAdjust="spacingAndGlyphs">All</text>
<text x="170.2" y="163.7" class="a" fill="#3e3e3e" text-anchor="start" textLength="17" lengthAdjust="spacingAndGlyphs">Dir</text>
<text x="173.3" y="295.2" class="a" fill="#3e3e3e" text-anchor="start" textLength="9.7" lengthAdjust="spacingAndGlyphs">Y</text>
<text y="164.8" class="a" fill="#676767"><tspan x="67.6">1</tspan><tspan x="76.2" font-size="8" dy="-0.8">∗</tspan><tspan x="85.2" dy="0.8">(</tspan><tspan x="89.4">K</tspan><tspan x="98.4" dy="-3.2" font-size="12.5">+</tspan><tspan x="106.3" dy="3.2" textLength="36.3" lengthAdjust="spacingAndGlyphs">N Pot)</tspan></text>
<text y="179" class="a" fill="#676767"><tspan x="67.2" font-style="italic">α</tspan><tspan x="77.8" font-size="8" dy="-0.8">∗</tspan><tspan x="86.6" dy="0.8">(</tspan><tspan x="91.4">K</tspan><tspan x="99.8" dy="-3.2" font-size="12.5">−</tspan><tspan x="107.9" dy="3.2" textLength="36.1" lengthAdjust="spacingAndGlyphs">N Pot)</tspan></text>
<text x="274.2" y="85.4" class="a" fill="#3e3e3e" text-anchor="start" textLength="6.5" lengthAdjust="spacingAndGlyphs" font-style="italic">α</text>
<text x="274.2" y="100.2" class="a" fill="#3e3e3e" text-anchor="start" textLength="5.6" lengthAdjust="spacingAndGlyphs">0</text>
<text x="273.8" y="114.1" class="a" fill="#3e3e3e" text-anchor="start" textLength="15.2" lengthAdjust="spacingAndGlyphs">0.5</text>
<text x="274.6" y="127.6" class="a" fill="#3e3e3e" text-anchor="start" textLength="5.2" lengthAdjust="spacingAndGlyphs">1</text>
<path d="M247.9,96.8H266" stroke="#ff00ff" stroke-width="1.3" stroke-linecap="square" stroke-dasharray="0.1 5.9" fill="none" opacity="0.55"/>
<path d="M247,111.1H268.5" stroke="#ff7f0e" stroke-width="1.1" stroke-linecap="butt" stroke-dasharray="8 2.6" fill="none" opacity="0.6"/>
<path d="M247,125H268.5" stroke="#66d98f" stroke-width="1.0" stroke-linecap="butt" fill="none" opacity="0.8"/>
<text x="274.2" y="231.4" class="a" fill="#3e3e3e" text-anchor="start" textLength="6.5" lengthAdjust="spacingAndGlyphs" font-style="italic">α</text>
<text x="274.4" y="245.8" class="a" fill="#3e3e3e" text-anchor="start" textLength="14.3" lengthAdjust="spacingAndGlyphs">1.5</text>
<text x="274.2" y="260.3" class="a" fill="#3e3e3e" text-anchor="start" textLength="5.6" lengthAdjust="spacingAndGlyphs">2</text>
<path d="M247.3,243.2H266.7" stroke="#8b1a1a" stroke-width="1.0" stroke-linecap="square" stroke-dasharray="0.1 2.5" fill="none" opacity="0.75"/>
<path d="M247,257.7H266.5" stroke="#7cb07d" stroke-width="0.8" stroke-linecap="butt" stroke-dasharray="5.6 1.4 1 4" fill="none" opacity="0.8"/>
<text x="142.8" y="438.2" class="x" fill="#3e3e3e" text-anchor="start" textLength="70.4" lengthAdjust="spacingAndGlyphs">p<tspan dy="2.8" font-size="10">T</tspan><tspan dy="-2.8"> [GeV/c]</tspan></text>
<g transform="translate(19.4,250) rotate(-90)" fill="#555"><path d="M0.2,0H18.1" stroke="#555" stroke-width="0.7"/><text x="2.4" y="-3.2" font-size="9.2" textLength="13.5" lengthAdjust="spacingAndGlyphs">dN</text><text x="0.7" y="7.4" font-size="9.6" textLength="14.1" lengthAdjust="spacingAndGlyphs">dp<tspan dy="1.6" font-size="6.5">T</tspan></text><path d="M21.2,-7.1V6.9" stroke="#555" stroke-width="0.7"/><text x="23" y="5.3" font-size="10">K</text><text x="30.2" y="3.2" font-size="9.5">+</text><path d="M39.6,7.3L44.5,-7.5" stroke="#444" stroke-width="0.9"/><path d="M47.2,0H65.1" stroke="#555" stroke-width="0.7"/><text x="49.4" y="-3.2" font-size="9.2" textLength="13.5" lengthAdjust="spacingAndGlyphs">dN</text><text x="47.7" y="7.4" font-size="9.6" textLength="14.1" lengthAdjust="spacingAndGlyphs">dp<tspan dy="1.6" font-size="6.5">T</tspan></text><path d="M68.2,-7.1V6.9" stroke="#555" stroke-width="0.7"/><text x="70" y="5.3" font-size="10">K</text><text x="78.6" y="3.4" font-size="10">−</text></g>
</svg>
</body></html>
